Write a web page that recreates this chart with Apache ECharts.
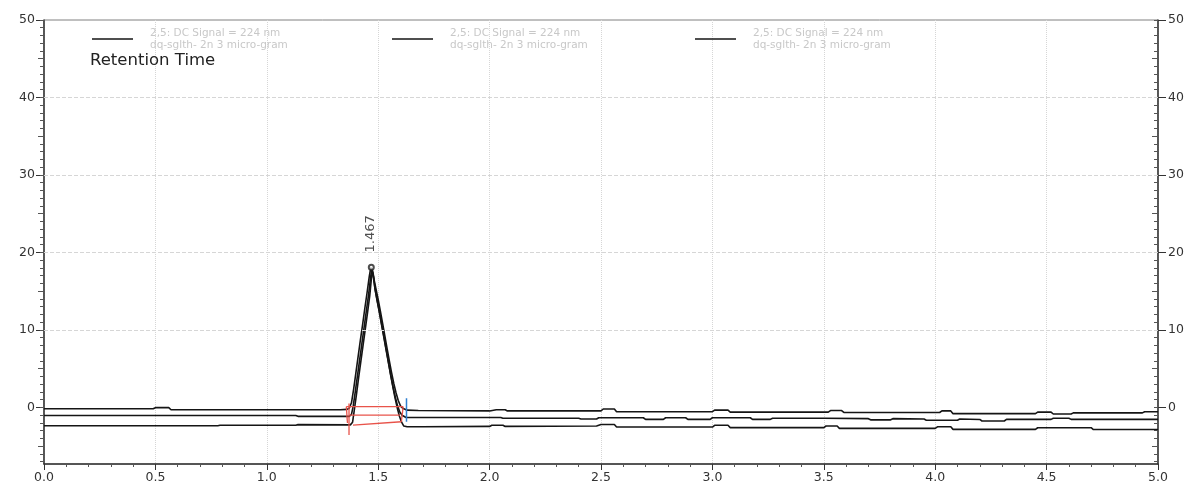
<!DOCTYPE html>
<html><head><meta charset="utf-8">
<script src="https://cdn.jsdelivr.net/npm/echarts@6/dist/echarts.min.js"></script>
<style>html,body{margin:0;padding:0;background:#fff}#c{width:1195px;height:487px}</style>
</head><body><div id="c"></div>
<script>
// ---- data ----
const seriesNames = [
  '2,5: DC Signal = 224 nm\ndq-sglth- 2n 3 micro-gram',
  '2,5: DC Signal = 224 nm\ndq-sglth- 2n 3 micro-gram ',
  '2,5: DC Signal = 224 nm\ndq-sglth- 2n 3 micro-gram  '
];
const traceTop = [
  [0,-0.17],[0.49,-0.17],[0.50,-0.03],[0.56,-0.03],[0.57,-0.3],[1.00,-0.3],[1.33,-0.3],
  [1.36,-0.25],[1.37,-0.1],[1.38,0.6],[1.39,2.4],[1.40,4.5],[1.41,6.6],[1.42,8.7],[1.43,10.7],
  [1.44,12.8],[1.45,14.8],[1.46,16.9],[1.467,18.1],[1.475,17.4],[1.49,15.3],[1.50,13.9],
  [1.51,12.4],[1.52,10.8],[1.53,9.2],[1.54,7.6],[1.55,6.0],[1.56,4.5],[1.57,3.1],[1.58,1.9],
  [1.59,0.9],[1.60,0.2],[1.61,-0.1],[1.63,-0.35],
  [1.68,-0.4],[2.00,-0.45],[2.03,-0.3],[2.07,-0.3],[2.08,-0.45],[2.50,-0.45],[2.51,-0.2],
  [2.56,-0.2],[2.57,-0.55],[3.00,-0.55],[3.01,-0.35],[3.07,-0.35],[3.08,-0.6],[3.52,-0.6],
  [3.53,-0.4],[3.58,-0.4],[3.59,-0.65],[4.02,-0.65],[4.03,-0.45],[4.07,-0.45],[4.08,-0.8],
  [4.45,-0.8],[4.46,-0.6],[4.52,-0.6],[4.53,-0.85],[4.61,-0.85],[4.62,-0.7],[4.93,-0.7],
  [4.94,-0.55],[5.00,-0.55]
];
const traceMiddle = [
  [0,-1.05],[1.13,-1.05],[1.14,-1.15],[1.37,-1.15],
  [1.38,-0.9],[1.388,0.2],[1.397,2.0],[1.407,4.1],[1.417,6.2],[1.427,8.3],[1.437,10.4],
  [1.447,12.5],[1.457,14.6],[1.465,16.6],[1.471,17.9],[1.477,17.1],[1.487,15.1],[1.497,13.6],
  [1.507,12.1],[1.517,10.5],[1.527,8.9],[1.537,7.3],[1.547,5.7],[1.557,4.1],[1.567,2.6],
  [1.577,1.3],[1.587,0.2],[1.597,-0.6],[1.607,-1.0],[1.625,-1.3],
  [1.70,-1.3],[2.05,-1.3],[2.06,-1.4],[2.40,-1.4],[2.41,-1.5],[2.48,-1.5],[2.49,-1.33],
  [2.69,-1.33],[2.70,-1.54],[2.78,-1.54],[2.79,-1.33],[2.88,-1.33],[2.89,-1.54],[2.99,-1.54],
  [3.00,-1.33],[3.17,-1.33],[3.18,-1.54],[3.26,-1.54],[3.27,-1.4],[3.50,-1.4],[3.70,-1.45],
  [3.71,-1.6],[3.80,-1.6],[3.81,-1.45],[3.95,-1.5],[3.96,-1.65],[4.10,-1.65],[4.11,-1.5],
  [4.20,-1.55],[4.21,-1.75],[4.31,-1.75],[4.32,-1.54],[4.52,-1.54],[4.53,-1.4],[4.60,-1.4],
  [4.61,-1.54],[5.00,-1.54]
];
const traceBottom = [
  [0,-2.36],[0.78,-2.36],[0.79,-2.3],[1.13,-2.3],[1.14,-2.22],[1.375,-2.25],
  [1.385,-1.9],[1.393,-0.3],[1.402,1.6],[1.412,3.8],[1.422,5.9],[1.432,8.0],[1.442,10.1],
  [1.452,12.2],[1.462,14.4],[1.469,16.5],[1.474,17.7],[1.479,17.0],[1.485,15.4],[1.495,13.8],
  [1.505,12.3],[1.515,10.7],[1.525,9.1],[1.535,7.5],[1.545,5.9],[1.555,4.3],[1.565,2.8],
  [1.575,1.3],[1.585,0.0],[1.595,-1.1],[1.605,-1.9],[1.615,-2.4],[1.63,-2.5],
  [1.70,-2.5],[2.00,-2.45],[2.01,-2.3],[2.06,-2.3],[2.07,-2.45],[2.48,-2.4],[2.50,-2.2],
  [2.56,-2.2],[2.57,-2.53],[3.00,-2.53],[3.01,-2.3],[3.07,-2.3],[3.08,-2.6],[3.50,-2.6],
  [3.51,-2.4],[3.56,-2.4],[3.57,-2.7],[4.00,-2.7],[4.01,-2.5],[4.07,-2.5],[4.08,-2.83],
  [4.45,-2.83],[4.46,-2.62],[4.70,-2.62],[4.71,-2.85],[5.00,-2.85]
];
const peakApex = [[1.469, 18.1]];
const peakLabel = '1.467';
const peakLabelPos = [[1.467, 22.4]];
const redSegments = [
  [[1.357,0.1],[1.612,0.1]],
  [[1.372,-1.0],[1.597,-1.0]],
  [[1.387,-2.27],[1.604,-1.85]],
  [[1.369,0.5],[1.369,-3.56]],
  [[1.357,0.1],[1.362,-2.0]],
  [[1.612,0.1],[1.604,-1.85]]
];
const blueSegments = [
  [[1.627,1.2],[1.627,-1.85]]
];
const xTickLabels = [0,0.5,1,1.5,2,2.5,3,3.5,4,4.5,5];
const yTickLabels = [0,10,20,30,40,50];
const yHalfTicks = [-5,5,15,25,35,45];
const yMinorTicks = [];
for (let v = -7; v <= 50; v++) yMinorTicks.push(v);
const yGridLines = [10,20,30,40];
const titleText = 'Retention Time';

// ---- chart ----
const Y_MIN = -7.3, Y_MAX = 50;
const FONT = 'DejaVu Sans';
const chart = echarts.init(document.getElementById('c'));

function yAx(pos, opts) {
  return Object.assign({
    type:'value', position:pos, min:Y_MIN, max:Y_MAX,
    splitLine:{show:false},
    axisLine:{show:false},
    axisLabel:{show:false},
    axisTick:{show:false}
  }, opts);
}
const axisCol = '#333';
const labelStyle = {color:'#333', fontSize:12.5, fontFamily:FONT};
const yAxes = [
  yAx('left', {
    axisLine:{show:true, lineStyle:{color:axisCol, width:1.5}},
    axisLabel:Object.assign({show:true, customValues:yTickLabels, margin:9}, labelStyle),
    axisTick:{show:true, customValues:yTickLabels, length:8, lineStyle:{color:axisCol}}
  }),
  yAx('left', {axisTick:{show:true, customValues:yMinorTicks, length:4, lineStyle:{color:'#555'}}}),
  yAx('left', {axisTick:{show:true, customValues:yHalfTicks, length:6, lineStyle:{color:'#555'}}}),
  yAx('right', {
    axisLine:{show:true, lineStyle:{color:axisCol, width:1.5}},
    axisLabel:Object.assign({show:true, customValues:yTickLabels, margin:10}, labelStyle),
    axisTick:{show:true, customValues:yTickLabels, length:8, lineStyle:{color:axisCol}}
  }),
  yAx('right', {axisTick:{show:true, inside:true, customValues:yMinorTicks, length:4, lineStyle:{color:'#555'}}}),
  yAx('right', {axisTick:{show:true, inside:true, customValues:yHalfTicks, length:6, lineStyle:{color:'#555'}}})
];

const traceStyle = {color:'#151515', width:1.6};
function trace(name, data, extra) {
  return Object.assign({
    name, type:'line', data, showSymbol:false, symbol:'none', animation:false,
    lineStyle:traceStyle, itemStyle:{color:'#151515'}, z:3
  }, extra || {});
}
const series = [
  trace(seriesNames[0], traceTop, {
    markLine:{silent:true, symbol:'none', label:{show:false}, animation:false,
      lineStyle:{color:'#d6d6d6', type:'dashed', width:1},
      data: yGridLines.map(v => ({yAxis:v}))}
  }),
  trace(seriesNames[1], traceMiddle),
  trace(seriesNames[2], traceBottom)
];
redSegments.forEach(seg => series.push({type:'line', data:seg, symbol:'none', animation:false, silent:true,
  lineStyle:{color:'#e8534a', width:1.3}, z:4}));
blueSegments.forEach(seg => series.push({type:'line', data:seg, symbol:'none', animation:false, silent:true,
  lineStyle:{color:'#2f7fd0', width:1.5}, z:4}));
series.push({type:'scatter', data:peakApex, symbol:'emptyCircle', symbolSize:5, animation:false, silent:true,
  itemStyle:{color:'#222', borderWidth:1}, z:5});
series.push({type:'scatter', data:peakLabelPos, symbolSize:0.1, animation:false, silent:true,
  itemStyle:{color:'transparent'},
  label:{show:true, position:'inside', rotate:90, formatter:peakLabel, color:'#222', fontSize:13, fontFamily:FONT}, z:5});

const legendBase = {
  orient:'horizontal', top:22, itemWidth:41, itemHeight:1.5, icon:'rect',
  selectedMode:false,
  textStyle:{color:'#c8c8c8', fontSize:10.5, lineHeight:12, fontFamily:FONT, padding:[0,0,0,12]}
};
chart.setOption({
  animation:false,
  backgroundColor:'#fff',
  title:{text:titleText, left:85, top:47, textStyle:{fontSize:16.5, fontWeight:'normal', color:'#222', fontFamily:FONT}},
  legend:[
    Object.assign({}, legendBase, {left:87, data:[seriesNames[0]]}),
    Object.assign({}, legendBase, {left:387, data:[seriesNames[1]]}),
    Object.assign({}, legendBase, {left:690, data:[seriesNames[2]]})
  ],
  grid:{left:44, right:37, top:20, bottom:23, show:true, borderColor:'#808080', borderWidth:1, containLabel:false},
  xAxis:{
    type:'value', min:0, max:5, interval:0.5,
    axisLine:{show:true, onZero:false, lineStyle:{color:axisCol, width:1.5}},
    axisTick:{show:true, length:6, lineStyle:{color:axisCol}},
    minorTick:{show:true, splitNumber:5, length:3, lineStyle:{color:'#555'}},
    axisLabel:Object.assign({margin:7, customValues:xTickLabels, formatter:v => Number(v).toFixed(1)}, labelStyle),
    splitLine:{show:true, lineStyle:{color:'#d6d6d6', type:'dotted', width:1}}
  },
  yAxis:yAxes,
  series
});
</script></body></html>
